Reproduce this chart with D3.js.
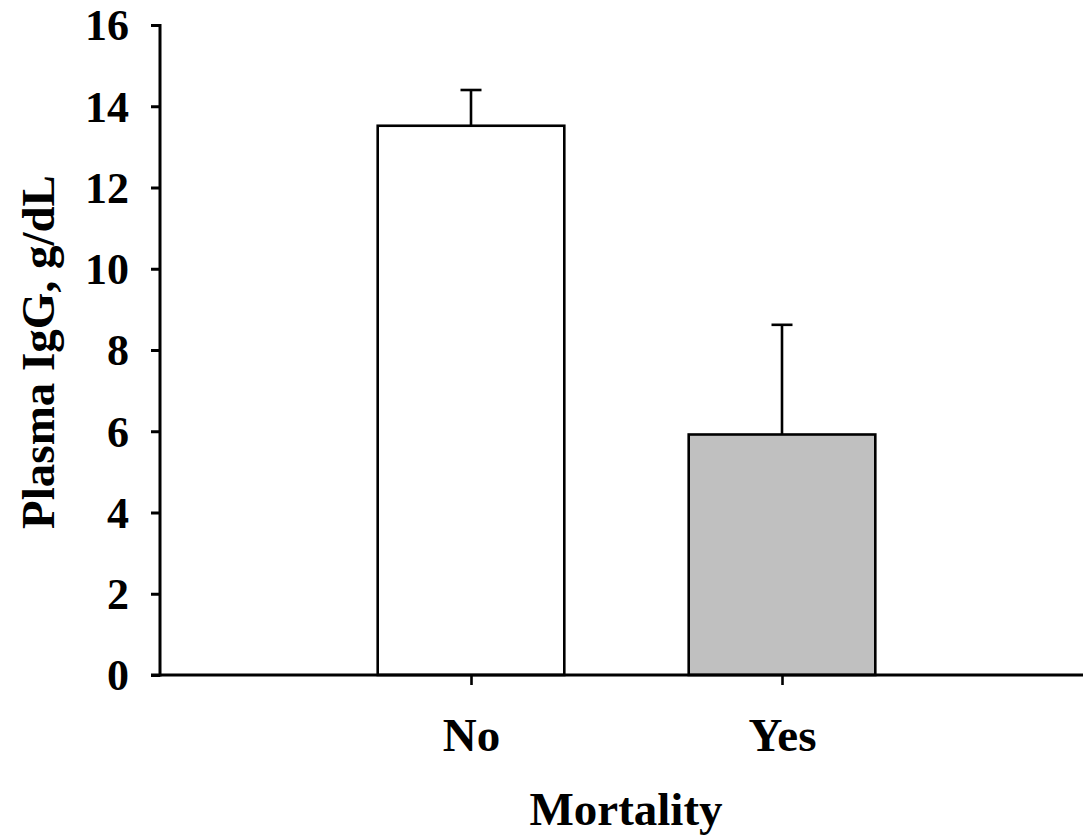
<!DOCTYPE html>
<html>
<head>
<meta charset="utf-8">
<script src="https://cdn.jsdelivr.net/npm/d3@7"></script>
<style>
  html, body { margin: 0; padding: 0; background: #fff; }
  svg { display: block; }
  text { font-family: "Liberation Serif", "Times New Roman", serif; font-weight: bold; fill: #000; }
</style>
</head>
<body>
<script>
// Plasma IgG by mortality outcome (mean with upper error bar)
const categories = ["No", "Yes"];
const means = [13.52, 5.92];
const upperErrors = [14.4, 8.62];
const fills = ["#ffffff", "#c0c0c0"];
const yTicks = [0, 2, 4, 6, 8, 10, 12, 14, 16];

const width = 1083, height = 838;
const margin = { left: 160, top: 25, bottom: 163 };

const svg = d3.select("body").append("svg")
  .attr("width", width).attr("height", height);

// Categories sit at positions 1 and 2 on a 0–3 span
const x = d3.scaleLinear().domain([0, 3]).range([margin.left, 1093]);
const y = d3.scaleLinear().domain([0, 16]).range([height - margin.bottom, margin.top]);
const barW = x(0.6) - x(0);

// Bars
svg.selectAll("rect.bar").data(categories).join("rect")
  .attr("class", "bar")
  .attr("x", (d, i) => x(i + 1) - barW / 2)
  .attr("y", (d, i) => y(means[i]))
  .attr("width", barW)
  .attr("height", (d, i) => y(0) - y(means[i]))
  .attr("fill", (d, i) => fills[i])
  .attr("stroke", "#000")
  .attr("stroke-width", 2.6);

// Upper error bars
const capW = 21;
const err = svg.selectAll("g.err").data(categories).join("g").attr("class", "err");
err.append("line")
  .attr("x1", (d, i) => x(i + 1)).attr("x2", (d, i) => x(i + 1))
  .attr("y1", (d, i) => y(means[i])).attr("y2", (d, i) => y(upperErrors[i]))
  .attr("stroke", "#000").attr("stroke-width", 2.6);
err.append("line")
  .attr("x1", (d, i) => x(i + 1) - capW / 2).attr("x2", (d, i) => x(i + 1) + capW / 2)
  .attr("y1", (d, i) => y(upperErrors[i])).attr("y2", (d, i) => y(upperErrors[i]))
  .attr("stroke", "#000").attr("stroke-width", 2.6);

// Y axis
const yAxis = svg.append("g")
  .attr("transform", `translate(${margin.left},0)`)
  .call(d3.axisLeft(y).tickValues(yTicks).tickSize(9).tickPadding(22).tickSizeOuter(0));
yAxis.select(".domain").attr("stroke-width", 3).attr("d", `M0,${y(16) - 1}V${y(0) + 1.5}`);
yAxis.selectAll(".tick line").attr("stroke-width", 3);
yAxis.selectAll(".tick text").style("font-size", "44px").attr("dy", "0.34em");

// X axis
const xAxis = svg.append("g")
  .attr("transform", `translate(0,${y(0)})`)
  .call(d3.axisBottom(x).tickValues([1, 2]).tickFormat((d) => categories[d - 1])
    .tickSize(10).tickPadding(66).tickSizeOuter(0));
xAxis.select(".domain").attr("stroke-width", 3).attr("d", `M${margin.left - 9},0H${width}`);
xAxis.selectAll(".tick line").attr("stroke-width", 2.6);
xAxis.selectAll(".tick text").style("font-size", "47px").attr("dy", "0");

// Axis titles
svg.append("text")
  .attr("x", 626).attr("y", 825)
  .attr("text-anchor", "middle")
  .style("font-size", "47px")
  .text("Mortality");

svg.append("text")
  .attr("transform", `translate(54,352) rotate(-90)`)
  .attr("text-anchor", "middle")
  .style("font-size", "47px")
  .text("Plasma IgG, g/dL");
</script>
</body>
</html>
